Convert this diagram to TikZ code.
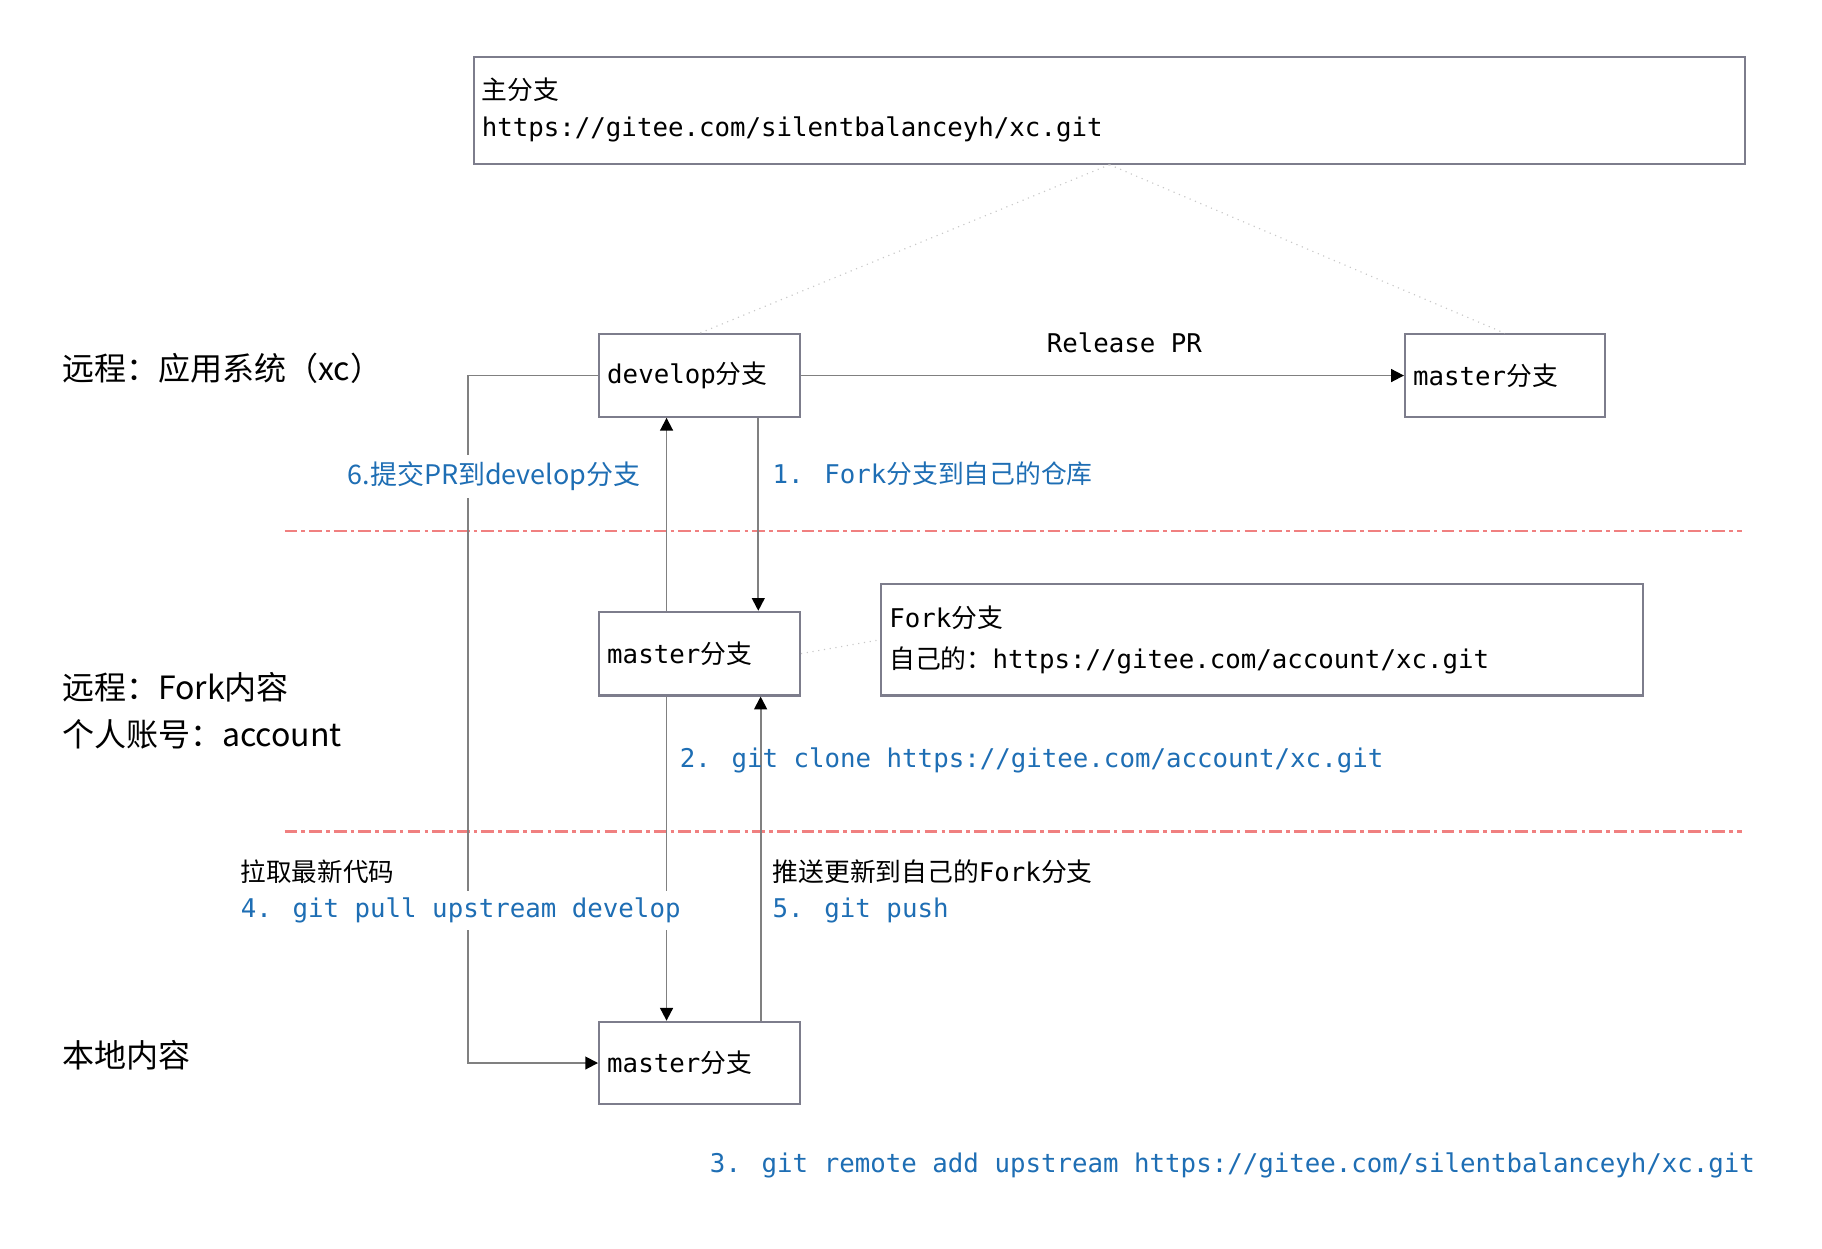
\documentclass[tikz,border=0pt]{standalone}
\usepackage{fontspec}
\setmainfont{DejaVu Sans Mono}
\newfontfamily\cjk{Noto Sans CJK SC}
\usetikzlibrary{arrows.meta}
\definecolor{blu}{RGB}{30,110,180}
\definecolor{redl}{RGB}{240,128,128}
\definecolor{boxc}{RGB}{125,125,140}
\definecolor{linec}{RGB}{128,128,128}
\definecolor{dotc}{RGB}{200,200,200}
\tikzset{
  box/.style={draw=boxc, line width=0.9pt, anchor=north west, inner xsep=3.5pt, inner ysep=0pt, align=left},
  conn/.style={draw=linec, line width=0.8pt},
  arr/.style={conn, -{Triangle[length=5.5pt,width=5.5pt,color=black]}},
  dotl/.style={draw=dotc, line width=0.5pt, dotted},
  redd/.style={draw=redl, line width=0.9pt, dash pattern=on 5.5pt off 1.8pt on 1.5pt off 1.8pt},
  txt/.style={anchor=west, inner sep=0pt},
  blab/.style={txt, text=blu},
  big/.style={txt, font=\cjk\fontsize{13.8pt}{20.5pt}\selectfont, align=left},
}
\begin{document}
\begin{tikzpicture}[x=0.5pt,y=-0.5pt, font=\fontsize{11.1pt}{16pt}\selectfont]
\useasboundingbox (0,0) rectangle (1569,1075);
% boxes
\node[box, text width=540.5pt, minimum height=46pt] (top) at (407,48)
  {{\cjk 主分支}\\https://gitee.com/silentbalanceyh/xc.git};
\node[box, text width=79.5pt, minimum height=35.5pt] (dev) at (515,287) {develop{\cjk 分支}};
\node[box, text width=79pt, minimum height=35.5pt, inner xsep=3.5pt] (mR) at (1209,287) {master{\cjk 分支}};
\node[box, text width=79.5pt, minimum height=36pt] (mm) at (515,526) {master{\cjk 分支}};
\node[box, text width=321pt, minimum height=48pt, font=\fontsize{11.1pt}{17.5pt}\selectfont] (fork) at (758,502)
  {Fork{\cjk 分支}\\{\cjk 自己的：}https://gitee.com/account/xc.git};
\node[box, text width=79.5pt, minimum height=35.5pt] (loc) at (515,879) {master{\cjk 分支}};
% dotted links
\draw[dotl] (top.south) -- (dev.north);
\draw[dotl] (top.south) -- (mR.north);
\draw[dotl] (mm.east) -- (fork.west);
% separators
\draw[redd] (245,457) -- (1500,457);
\draw[redd] (245,716) -- (1500,716);
% connectors
\draw[arr] (dev.east) -- (mR.west);
\draw[arr] (dev.west) -- ++(-112,0) |- (loc.west);
\draw[arr] ([xshift=29.5pt]mm.north west) -- ([xshift=29.5pt]dev.south west);
\draw[arr] ([xshift=69pt]dev.south west) -- ([xshift=69pt]mm.north west);
\draw[arr] ([xshift=29.5pt]mm.south west) -- ([xshift=29.5pt]loc.north west);
\draw[arr] ([xshift=70pt]loc.north west) -- ([xshift=70pt]mm.south west);
% labels
\node[txt] (rel) at (901,295) {Release PR};
\node[big] (l1) at (53,317) {远程：应用系统（xc）};
\node[big] (l2) at (53,612) {远程：Fork内容\\个人账号：account};
\node[big] (l3) at (53,909) {本地内容};
\node[blab, fill=white, inner ysep=3pt, font=\cjk\fontsize{11.6pt}{13pt}\selectfont] (s6) at (299,410) {6.提交PR到develop分支};
\node[blab] (s1) at (665,408) {1. Fork{\cjk 分支到自己的仓库}};
\node[blab] (s2) at (585,655) {2. git clone https://gitee.com/account/xc.git};
\node[txt, font=\cjk\fontsize{11pt}{13pt}\selectfont] (p4) at (207,751) {拉取最新代码};
\node[blab, fill=white, inner ysep=3pt] (s4) at (207,784) {4. git pull upstream develop};
\node[txt] (p5) at (665,751) {{\cjk 推送更新到自己的}Fork{\cjk 分支}};
\node[blab] (s5) at (665,784) {5. git push};
\node[blab] (s3) at (611,1004) {3. git remote add upstream https://gitee.com/silentbalanceyh/xc.git};
\end{tikzpicture}
\end{document}
